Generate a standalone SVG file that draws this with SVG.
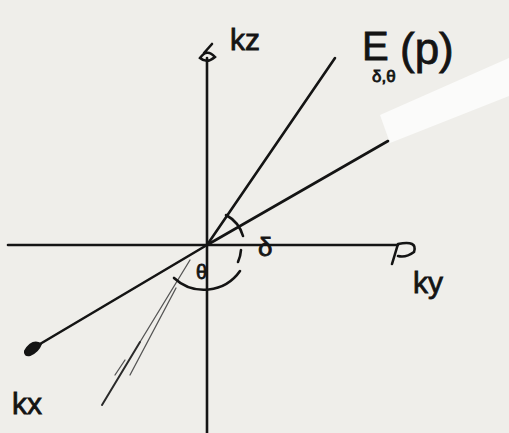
<svg xmlns="http://www.w3.org/2000/svg" width="509" height="433" viewBox="0 0 509 433">
<style>
.ink{stroke:#141414;stroke-width:2.6;fill:none;stroke-linecap:round}
.thin{stroke:#555;stroke-width:1.3;fill:none;stroke-linecap:round}
.lbl{font-family:"Liberation Sans",sans-serif;fill:#141414;stroke:#141414;stroke-width:0.8}
</style>
<rect x="0" y="0" width="509" height="433" fill="#efeeea"/>
<polygon points="380,115 509,58 509,96 390,143" fill="#fbfbfa"/>
<g id="connectors">
<line class="ink" x1="207" y1="58" x2="207" y2="433"/>
<path class="ink" d="M200,58 Q207,48 215,57 Q207,64 200,58 Z M204,53 L212,44"/>
<line class="ink" x1="8" y1="245" x2="398" y2="245"/>
<path class="ink" d="M398,244 L392,264 M398,244 Q418,240 414,252 Q406,258 398,256"/>
<line class="ink" x1="207" y1="245" x2="335" y2="58"/>
<line class="ink" x1="207" y1="245" x2="388" y2="141"/>
<line class="ink" x1="207" y1="245" x2="40" y2="344"/>
<path d="M41,344 Q32,339 25,351 Q24,356 30,355 Q38,352 41,344 Z" fill="#141414" stroke="#141414" stroke-width="2"/>
<path class="thin" d="M190,260 L140,342"/>
<path d="M140,342 L102,405" stroke="#2a2a2a" stroke-width="2" fill="none" stroke-linecap="round"/>
<path class="thin" d="M176,288 L130,375 M115,375 L125,360"/>
<path class="ink" d="M226,215 A35,35 0 0 1 243,236 M241,250 A35,35 0 0 1 238,262"/>
<path class="ink" d="M174,278 A44,44 0 0 0 240,271"/>
</g>
<g id="labels">
<text class="lbl" x="230" y="50" font-size="30">kz</text>
<text class="lbl" x="258" y="256" font-size="26">δ</text>
<text class="lbl" x="196" y="279" font-size="20">θ</text>
<text class="lbl" x="362" y="60" font-size="40">E</text>
<text class="lbl" x="372" y="82" font-size="17">δ,θ</text>
<text class="lbl" x="400" y="64" font-size="44">(p)</text>
<text class="lbl" x="413" y="293" font-size="30">ky</text>
<text class="lbl" x="12" y="414" font-size="30">kx</text>
</g>
</svg>
